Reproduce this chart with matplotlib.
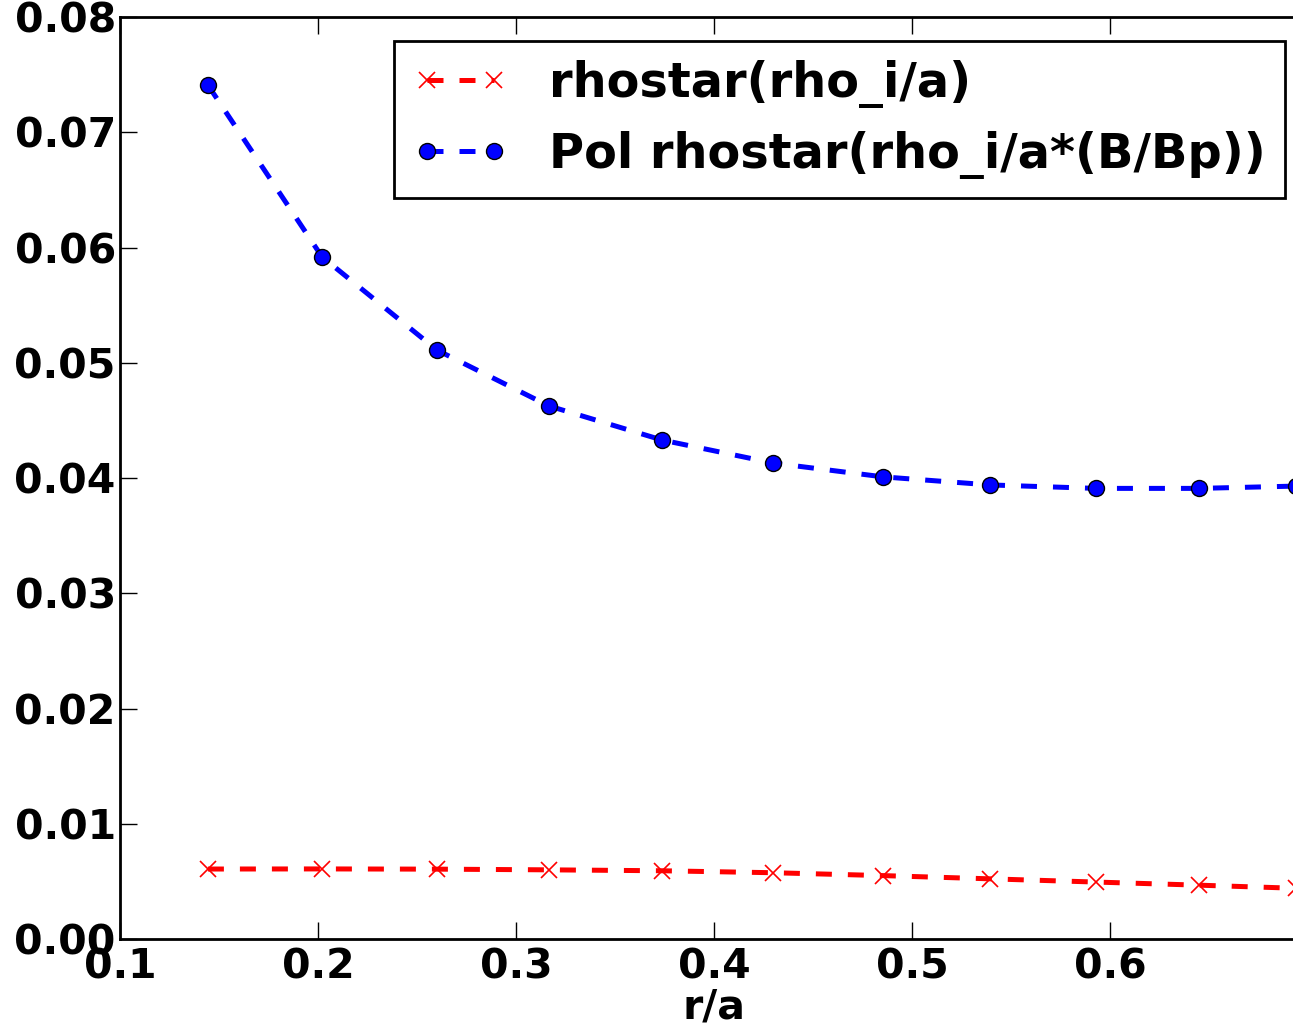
import numpy as np
import matplotlib
matplotlib.use('Agg')
import matplotlib.pyplot as plt

# r/a grid
r_a = [0.1444, 0.2020, 0.2601, 0.3167, 0.3737, 0.4298,
       0.4854, 0.5394, 0.5929, 0.6449, 0.6940]

rhostar = [0.00607, 0.00608, 0.00606, 0.00600, 0.00592, 0.00575,
           0.00550, 0.00522, 0.00494, 0.00467, 0.00440]

pol_rhostar = [0.0741, 0.0592, 0.0511, 0.04625, 0.0433, 0.0413,
               0.0401, 0.0394, 0.0391, 0.0391, 0.0393]

label_1 = 'rhostar(rho_i/a)'
label_2 = 'Pol rhostar(rho_i/a*(B/Bp))'

xticks = [0.1, 0.2, 0.3, 0.4, 0.5, 0.6]
yticks = [0.00, 0.01, 0.02, 0.03, 0.04, 0.05, 0.06, 0.07, 0.08]

plt.rcParams['font.family'] = ['DejaVu Sans']
plt.rcParams['font.weight'] = 'bold'
plt.rcParams['font.size'] = 29.5

fig = plt.figure(figsize=(12.93, 10.27), dpi=100)
ax = fig.add_axes([0.0928, 0.0857, 0.9188, 0.8977])

ax.plot(r_a, rhostar, color='red', linestyle='--', dashes=(3.2, 3.2), lw=3.6,
        marker='x', markersize=12, markeredgewidth=1.2, label=label_1)
ax.plot(r_a, pol_rhostar, color='blue', linestyle='--', dashes=(3.2, 3.2), lw=3.6,
        marker='o', markersize=11.5, markeredgecolor='black', markeredgewidth=1.0,
        label=label_2)

ax.set_xlim(0.1, 0.7)
ax.set_ylim(0.0, 0.08)
ax.set_xticks(xticks)
ax.set_yticks(yticks)
ax.set_xticklabels(['%.1f' % t for t in xticks])
ax.set_yticklabels(['%.2f' % t for t in yticks])
ax.tick_params(direction='in', length=12, width=1, top=True, right=False)
ax.tick_params(axis='y', pad=3)
ax.tick_params(axis='x', pad=6)
for s in ax.spines.values():
    s.set_linewidth(2)
ax.set_xlabel('r/a', fontweight='bold', labelpad=0)

leg = ax.legend(loc='upper right', bbox_to_anchor=(0.9806, 0.974), numpoints=2,
                fontsize=34.5, handlelength=2.0, handletextpad=0.84, labelspacing=0.48,
                borderpad=0.4, fancybox=False, framealpha=1, borderaxespad=0)
leg.get_frame().set_edgecolor('black')
leg.get_frame().set_linewidth(2)

fig.savefig('out.png', dpi=100)
